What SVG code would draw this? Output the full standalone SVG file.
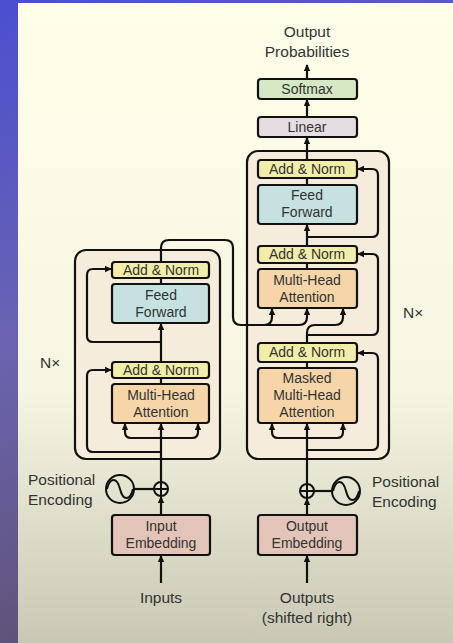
<svg xmlns="http://www.w3.org/2000/svg" width="453" height="643" viewBox="0 0 453 643">
<defs>
<linearGradient id="bg" x1="0" y1="0" x2="0.3" y2="1">
<stop offset="0" stop-color="#4b4fd0"/>
<stop offset="0.5" stop-color="#6a64b0"/>
<stop offset="1" stop-color="#5e5070"/>
</linearGradient>
<linearGradient id="panel" x1="0" y1="0" x2="0" y2="1">
<stop offset="0" stop-color="#fefee9"/>
<stop offset="0.6" stop-color="#f6f6e2"/>
<stop offset="1" stop-color="#c8c8b4"/>
</linearGradient>
<marker id="ah" markerUnits="userSpaceOnUse" markerWidth="8" markerHeight="8" refX="6" refY="4" orient="auto">
<path d="M0,0.8 L7,4 L0,7.2 Z" fill="#111"/>
</marker>
<style>
.box{stroke:#111;stroke-width:2.2}
.outer{fill:#f6ecdc;stroke:#111;stroke-width:2.2}
.an{fill:#f2eeaa}
.ff{fill:#c6e2e0}
.mha{fill:#f6d6a8}
.emb{fill:#e2c4b8}
.sm{fill:#d6e8c4}
.lin{fill:#e4dde2}
.t{font-family:"Liberation Sans",Arial,sans-serif;font-size:14px;fill:#333;text-anchor:middle}
.l{font-family:"Liberation Sans",Arial,sans-serif;font-size:15.5px;fill:#333}
.c{text-anchor:middle}
#connectors path,#connectors line{fill:none;stroke:#111;stroke-width:2.2}
.arr{marker-end:url(#ah)}
</style>
</defs>
<rect x="0" y="0" width="453" height="643" fill="url(#bg)"/>
<rect x="18" y="3" width="435" height="640" fill="url(#panel)"/>

<g id="encoder-block"><rect class="outer" x="75" y="250" width="145" height="209" rx="11"/></g>
<g id="decoder-block"><rect class="outer" x="247" y="151" width="142" height="308" rx="11"/></g>

<g id="connectors">
<!-- decoder top -->
<line class="arr" x1="307" y1="79" x2="307" y2="65"/>
<line class="arr" x1="307" y1="117" x2="307" y2="100"/>
<line class="arr" x1="307" y1="160" x2="307" y2="138"/>
<line x1="307" y1="185" x2="307" y2="178"/>
<line class="arr" x1="307" y1="246" x2="307" y2="225"/>
<path class="arr" d="M307,237 H372 Q378,237 378,231 V175 Q378,169 372,169 H358"/>
<line x1="307" y1="269" x2="307" y2="263"/>
<path class="arr" d="M307,335 H372 Q378,335 378,329 V260 Q378,254 372,254 H358"/>
<path class="arr" d="M307,343 V333 Q307,325 315,325 H335 Q343,325 343,317 V309"/>
<line x1="307" y1="368" x2="307" y2="362"/>
<path class="arr" d="M307,450 H372 Q378,450 378,444 V359 Q378,353 372,353 H358"/>
<line class="arr" x1="307" y1="484" x2="307" y2="424"/>
<path class="arr" d="M278,438 Q272,438 272,432 V424"/>
<path class="arr" d="M278,438 H337 Q343,438 343,432 V424"/>
<!-- encoder to decoder -->
<path class="arr" d="M161,262 V248 Q161,240 169,240 H225 Q233,240 233,248 V317 Q233,325 241,325 H264 Q272,325 272,317 V309"/>
<path class="arr" d="M264,325 H299 Q307,325 307,317 V309"/>
<!-- encoder -->
<line x1="161" y1="284" x2="161" y2="277"/>
<line class="arr" x1="161" y1="362" x2="161" y2="324"/>
<path class="arr" d="M161,342 H93 Q87,342 87,336 V275 Q87,269 93,269 H111"/>
<line x1="161" y1="384" x2="161" y2="377"/>
<path class="arr" d="M161,452 H93 Q87,452 87,446 V376 Q87,370 93,370 H111"/>
<line class="arr" x1="161" y1="482" x2="161" y2="424"/>
<path class="arr" d="M131,438 Q125,438 125,432 V424"/>
<path class="arr" d="M131,438 H192 Q198,438 198,432 V424"/>
<!-- bottom -->
<line class="arr" x1="161" y1="515" x2="161" y2="497"/>
<line class="arr" x1="161" y1="583" x2="161" y2="556"/>
<line class="arr" x1="307" y1="515" x2="307" y2="499"/>
<line class="arr" x1="307" y1="583" x2="307" y2="556"/>
<line x1="134" y1="489" x2="154" y2="489"/>
<line x1="314" y1="491" x2="332" y2="491"/>
</g>

<g id="softmax"><rect class="box sm" x="258" y="79" width="99" height="20" rx="3"/><text class="t" x="307" y="94">Softmax</text></g>
<g id="linear"><rect class="box lin" x="258" y="117" width="99" height="20" rx="3"/><text class="t" x="307" y="132">Linear</text></g>
<g id="dec-addnorm3"><rect class="box an" x="258" y="160" width="99" height="18" rx="3"/><text class="t" x="307" y="174">Add &amp; Norm</text></g>
<g id="dec-ff"><rect class="box ff" x="258" y="185" width="99" height="39" rx="3"/><text class="t" x="307" y="200">Feed</text><text class="t" x="307" y="217">Forward</text></g>
<g id="dec-addnorm2"><rect class="box an" x="258" y="246" width="99" height="17" rx="3"/><text class="t" x="307" y="259">Add &amp; Norm</text></g>
<g id="dec-mha"><rect class="box mha" x="258" y="269" width="99" height="39" rx="3"/><text class="t" x="307" y="285">Multi-Head</text><text class="t" x="307" y="302">Attention</text></g>
<g id="dec-addnorm1"><rect class="box an" x="258" y="343" width="99" height="19" rx="3"/><text class="t" x="307" y="357">Add &amp; Norm</text></g>
<g id="dec-masked"><rect class="box mha" x="258" y="368" width="99" height="55" rx="3"/><text class="t" x="307" y="383">Masked</text><text class="t" x="307" y="400">Multi-Head</text><text class="t" x="307" y="417">Attention</text></g>

<g id="enc-addnorm2"><rect class="box an" x="112" y="262" width="97" height="16" rx="3"/><text class="t" x="161" y="275">Add &amp; Norm</text></g>
<g id="enc-ff"><rect class="box ff" x="112" y="284" width="97" height="39" rx="3"/><text class="t" x="161" y="300">Feed</text><text class="t" x="161" y="317">Forward</text></g>
<g id="enc-addnorm1"><rect class="box an" x="112" y="362" width="97" height="16" rx="3"/><text class="t" x="161" y="375">Add &amp; Norm</text></g>
<g id="enc-mha"><rect class="box mha" x="112" y="384" width="97" height="39" rx="3"/><text class="t" x="161" y="400">Multi-Head</text><text class="t" x="161" y="417">Attention</text></g>

<g id="input-embedding"><rect class="box emb" x="112" y="515" width="98" height="40" rx="3"/><text class="t" x="161" y="531">Input</text><text class="t" x="161" y="548">Embedding</text></g>
<g id="output-embedding"><rect class="box emb" x="258" y="515" width="99" height="40" rx="3"/><text class="t" x="307" y="531">Output</text><text class="t" x="307" y="548">Embedding</text></g>

<g id="enc-add" fill="none" stroke="#111" stroke-width="2"><circle cx="161" cy="489" r="7"/><path d="M154,489 H168 M161,482 V496"/></g>
<g id="dec-add" fill="none" stroke="#111" stroke-width="2"><circle cx="307" cy="491" r="7"/><path d="M300,491 H314 M307,484 V498"/></g>
<g id="enc-posenc" fill="none" stroke="#111" stroke-width="2"><circle cx="120" cy="489" r="14"/><path d="M107,489 C110,477 117,477 120,489 C123,501 130,501 133,489"/></g>
<g id="dec-posenc" fill="none" stroke="#111" stroke-width="2"><circle cx="346" cy="491" r="14"/><path d="M333,491 C336,479 343,479 346,491 C349,503 356,503 359,491"/></g>

<g id="labels">
<text class="l c" x="307" y="37">Output</text>
<text class="l c" x="307" y="57">Probabilities</text>
<text class="l" x="40" y="368">N×</text>
<text class="l" x="403" y="318">N×</text>
<text class="l" x="28" y="485">Positional</text>
<text class="l" x="28" y="505">Encoding</text>
<text class="l" x="372" y="487">Positional</text>
<text class="l" x="372" y="507">Encoding</text>
<text class="l c" x="161" y="603">Inputs</text>
<text class="l c" x="307" y="603">Outputs</text>
<text class="l c" x="307" y="623">(shifted right)</text>
</g>
</svg>
